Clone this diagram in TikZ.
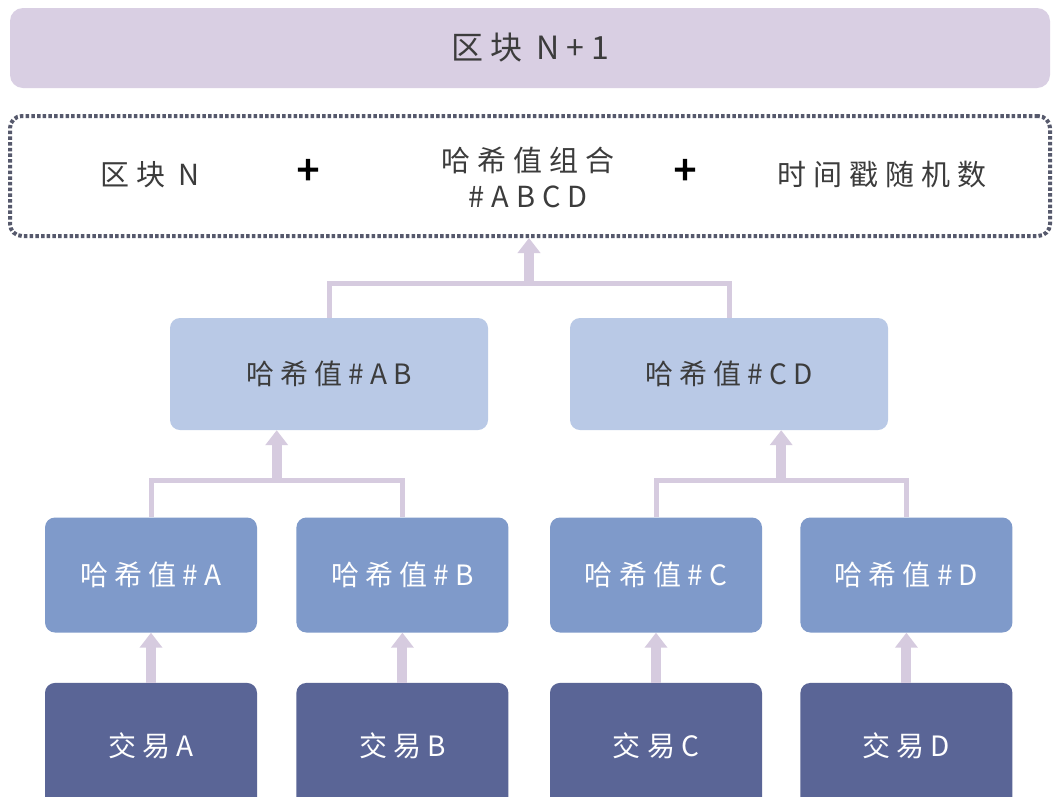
\documentclass[tikz,border=0pt]{standalone}
\usepackage{fontspec}
\setmainfont{Noto Sans CJK SC}
\usepackage{tikz}
\usetikzlibrary{positioning}
\usetikzlibrary{calc}
\usetikzlibrary{arrows.meta}

\definecolor{barlilac}{HTML}{D9CFE3}
\definecolor{linklilac}{HTML}{D6CBDF}
\definecolor{dotgray}{HTML}{56596C}
\definecolor{hashpale}{HTML}{B9C9E6}
\definecolor{hashmid}{HTML}{7F9ACA}
\definecolor{txdark}{HTML}{5A6596}
\definecolor{inkgray}{HTML}{3C3C3C}

\newcommand{\boxfont}{\fontsize{28}{36}\selectfont\addfontfeature{LetterSpace=22}}
\newcommand{\hdrfont}{\fontsize{29}{36}\selectfont\addfontfeature{LetterSpace=24}}
\newcommand{\barfont}{\fontsize{32}{36}\selectfont\addfontfeature{LetterSpace=22}}

\tikzset{
	box/.style={rectangle, rounded corners=10pt, inner sep=0pt, font=\boxfont},
	blockbar/.style={box, rounded corners=13pt, fill=barlilac, text=inkgray, font=\barfont, minimum width=1040pt, minimum height=80pt},
	dotbox/.style={rectangle, rounded corners=12pt, draw=dotgray, line width=4pt, dash pattern=on 3.5pt off 2.2pt, minimum width=1040pt, minimum height=120pt},
	intext/.style={text=inkgray, font=\hdrfont, align=center},
	plus/.style={text=black, font=\fontsize{40}{40}\selectfont\addfontfeature{FakeBold=3}},
	hashpair/.style={box, fill=hashpale, text=inkgray, minimum width=318pt, minimum height=112pt},
	hashleaf/.style={box, fill=hashmid, text=white, minimum width=212pt, minimum height=115pt},
	txbox/.style={box, fill=txdark, text=white, minimum width=212pt, minimum height=125pt},
	link/.style={draw=linklilac, line width=5pt},
	fatarrow/.style={draw=linklilac, line width=10pt, -{Triangle[width=22pt,length=15pt]}}
}

\begin{document}
\begin{tikzpicture}[x=1pt, y=-1pt]
	\clip (0,0) rectangle (1056,796);
	\fill [white] (0,0) rectangle (1056,796);

	% Levels 1 and 2
	\node [blockbar] at (530,48) (1blk) {区块 N+1};
	\node [dotbox] at (530,176) (2hdr) {};
	\node [intext] at (150,175) (2blkN) {区块 N};
	\node [plus] at (308,172) (2plusL) {+};
	\node [intext] at (528,177) (2combo) {哈希值组合\\\#ABCD};
	\node [plus] at (685,172) (2plusR) {+};
	\node [intext] at (882,175) (2time) {时间戳随机数};

	% Levels 3 to 5
	\node [hashpair] at (329,374) (3AB) {哈希值\#AB};
	\node [hashpair] at (729,374) (3CD) {哈希值\#CD};
	\node [hashleaf] at (151,575) (4A) {哈希值\#A};
	\node [hashleaf, right=39pt of 4A] (4B) {哈希值\#B};
	\node [hashleaf] at (656,575) (4C) {哈希值\#C};
	\node [hashleaf, right=38pt of 4C] (4D) {哈希值\#D};
	\node [txbox, below=50pt of 4A] (5A) {交易A};
	\node [txbox, below=50pt of 4B] (5B) {交易B};
	\node [txbox, below=50pt of 4C] (5C) {交易C};
	\node [txbox, below=50pt of 4D] (5D) {交易D};

	% Junctions
	\coordinate (jTop) at ($(3AB.north)!0.5!(3CD.north) + (0,-34)$);
	\coordinate (jAB) at ($(4A.north)!0.5!(4B.north) + (0,-37)$);
	\coordinate (jCD) at ($(4C.north)!0.5!(4D.north) + (0,-37)$);

	% Connections
	\draw [link] (3AB.north) |- (jTop) -| (3CD.north);
	\draw [fatarrow] (jTop) -- (jTop |- 2hdr.south);
	\draw [link] (4A.north) |- (jAB) -| (4B.north);
	\draw [fatarrow] (jAB) -- (jAB |- 3AB.south);
	\draw [link] (4C.north) |- (jCD) -| (4D.north);
	\draw [fatarrow] (jCD) -- (jCD |- 3CD.south);
	\draw [fatarrow] (5A) -- (4A);
	\draw [fatarrow] (5B) -- (4B);
	\draw [fatarrow] (5C) -- (4C);
	\draw [fatarrow] (5D) -- (4D);
\end{tikzpicture}
\end{document}
